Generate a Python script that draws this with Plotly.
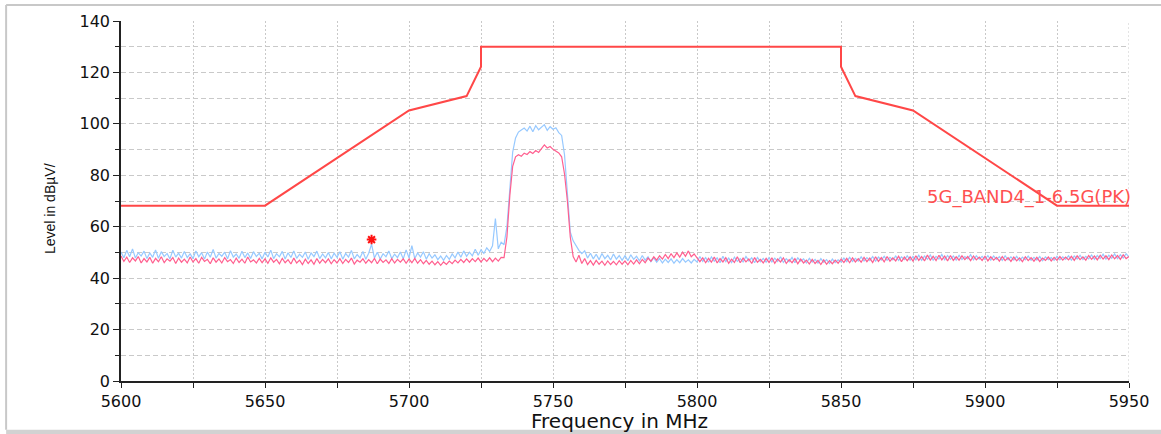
import plotly.graph_objects as go

# ---- data ----
F_START = 5600  # MHz, sweep start
F_STEP = 1      # MHz, sweep step

BLUE_DB = [
    50.2, 47.9, 50.8, 48.3, 51.4, 47.8, 49.9, 48.6, 50.5, 47.6, 49.8, 48.1, 51.0, 47.7, 50.3, 48.4, 49.6, 47.5, 50.9, 48.2, 49.7, 47.8, 50.4, 48.0, 49.5,
    47.6, 50.6, 48.3, 49.9, 47.4, 50.2, 48.1, 51.2, 47.8, 49.6, 48.5, 50.1, 47.5, 50.7, 48.2, 49.4, 47.7, 50.5, 48.0, 49.8, 47.6, 50.3, 48.4, 49.7, 47.5,
    50.1, 48.2, 50.9, 47.6, 49.5, 48.3, 50.4, 47.4, 49.9, 48.0, 50.6, 47.7, 49.3, 48.1, 50.2, 47.3, 49.8, 48.4, 50.5, 47.6, 49.4, 47.9, 50.0, 47.5, 49.7,
    48.1, 50.3, 47.4, 49.6, 48.2, 50.8, 47.5, 49.2, 47.9, 50.4, 47.3, 49.7, 53.2, 47.8, 50.1, 47.4, 49.5, 48.3, 50.6, 47.6, 49.3, 48.0, 50.2, 47.5, 51.0,
    47.9, 52.6, 47.6, 49.8, 48.2, 50.3, 47.4, 49.5, 47.8, 49.1, 47.2, 48.6, 46.9, 48.8, 47.3, 49.4, 47.9, 50.2, 48.1, 50.6, 48.5, 50.1, 48.7, 51.2, 48.9,
    51.0, 49.6, 51.8, 50.4, 52.6, 63.2, 51.4, 54.0, 53.0, 60.0, 76.0, 89.0, 94.5, 96.8, 97.6, 98.4, 97.2, 99.1, 96.9, 99.3, 97.7, 98.6, 99.7, 97.5, 98.9,
    97.9, 98.5, 96.6, 95.5, 88.0, 72.0, 58.0, 54.5, 52.4, 50.8, 49.5, 50.6, 47.8, 49.7, 47.5, 49.3, 47.2, 49.6, 47.6, 48.9, 47.1, 49.4, 47.4, 48.8, 46.9,
    48.7, 46.8, 49.1, 47.3, 48.5, 46.7, 48.8, 47.0, 48.3, 46.4, 47.9, 46.2, 47.6, 45.9, 47.4, 46.1, 47.5, 45.8, 47.2, 46.0, 47.6, 46.2, 47.1, 45.9, 47.3,
    46.3, 48.4, 46.5, 48.0, 46.2, 48.3, 46.6, 47.9, 46.0, 48.5, 46.4, 47.8, 46.1, 48.2, 46.5, 47.6, 46.3, 48.4, 46.7, 47.9, 46.0, 48.1, 46.4, 47.7, 46.2,
    48.0, 46.3, 47.8, 46.5, 48.3, 46.1, 47.6, 46.4, 48.1, 46.0, 47.9, 46.6, 47.5, 45.9, 47.7, 46.2, 47.3, 45.8, 47.6, 46.1, 47.2, 45.7, 47.4, 46.0, 47.1,
    46.3, 47.8, 46.4, 48.1, 46.5, 47.7, 46.6, 48.3, 46.7, 48.0, 46.8, 48.4, 46.6, 48.2, 47.0, 48.5, 46.9, 48.1, 47.1, 48.6, 46.9, 48.3, 47.2, 48.7, 47.0,
    48.4, 47.1, 48.9, 46.9, 48.6, 47.3, 49.0, 47.0, 48.5, 47.4, 49.2, 47.1, 48.8, 47.3, 48.6, 47.0, 48.9, 47.2, 48.4, 47.5, 49.1, 47.1, 48.7, 47.4, 48.5,
    47.2, 48.8, 47.0, 48.6, 47.3, 48.4, 46.9, 48.7, 47.1, 48.3, 47.0, 48.5, 46.8, 48.2, 47.1, 48.6, 46.9, 48.1, 47.0, 48.4, 46.8, 48.3, 47.2, 48.0, 46.9,
    48.5, 47.1, 48.3, 47.3, 48.7, 47.0, 48.6, 47.4, 48.9, 47.2, 48.5, 47.5, 49.0, 47.3, 48.8, 47.6, 49.3, 47.4, 48.9, 47.7, 49.4, 47.6, 49.1, 47.8, 49.5, 48.2,
]

PINK_DB = [
    48.6, 46.5, 48.2, 46.1, 47.9, 46.7, 48.4, 45.9, 47.6, 46.3, 48.1, 45.8, 47.7, 46.4, 48.3, 46.0, 47.5, 46.6, 48.0, 45.7, 47.8, 46.2, 47.4, 45.9, 48.2,
    46.3, 47.6, 45.8, 48.1, 46.5, 47.3, 45.6, 47.9, 46.2, 47.5, 45.9, 48.0, 46.4, 47.2, 45.7, 47.8, 46.1, 47.4, 45.8, 48.2, 46.3, 47.1, 45.9, 47.7, 46.0,
    47.5, 45.8, 47.9, 46.2, 47.3, 45.6, 47.7, 46.0, 47.2, 45.5, 47.8, 45.9, 47.0, 45.3, 47.4, 45.7, 47.1, 45.4, 47.6, 45.8, 47.3, 46.0, 47.5, 45.6, 47.2,
    45.9, 47.6, 45.7, 47.3, 46.1, 47.8, 45.5, 47.0, 46.2, 47.5, 45.8, 47.2, 46.0, 47.7, 45.6, 47.4, 46.1, 47.1, 45.7, 47.6, 45.9, 47.3, 46.2, 47.5, 45.8,
    47.4, 46.0, 47.7, 45.8, 47.2, 45.6, 46.9, 45.4, 46.6, 45.2, 46.4, 45.0, 46.3, 45.3, 46.6, 45.6, 47.0, 45.9, 47.3, 46.1, 47.5, 46.2, 47.6, 46.4, 47.8,
    46.3, 47.7, 46.5, 47.9, 46.4, 47.8, 46.6, 48.1, 48.0, 56.0, 72.0, 83.5, 87.2, 88.0, 87.4, 88.6, 88.1, 89.2, 88.5, 89.6, 88.9, 90.4, 91.8, 90.6, 91.2,
    90.1, 89.4, 88.7, 87.2, 80.5, 70.0, 56.0, 48.4, 46.3, 48.9, 45.7, 47.6, 45.3, 46.8, 45.1, 46.9, 45.4, 46.6, 45.0, 46.7, 45.3, 46.5, 45.2, 46.8, 45.4,
    46.7, 45.2, 46.9, 45.5, 47.1, 45.6, 47.3, 46.0, 47.8, 46.6, 48.3, 47.0, 48.7, 47.4, 49.2, 47.6, 49.5, 48.0, 49.8, 48.2, 50.1, 48.5, 50.6, 48.3, 49.4,
    48.1, 46.4, 47.9, 46.0, 47.7, 46.2, 48.2, 45.9, 47.6, 46.3, 48.0, 45.8, 47.4, 46.1, 48.3, 46.0, 47.8, 46.3, 47.5, 45.7, 48.0, 46.2, 47.3, 45.9, 47.7,
    46.1, 47.9, 45.8, 47.5, 46.3, 47.9, 45.7, 47.2, 46.0, 47.6, 45.6, 47.4, 45.9, 47.0, 45.5, 47.3, 45.7, 46.9, 45.3, 47.1, 45.4, 46.8, 45.6, 47.0, 45.8,
    47.4, 46.1, 47.7, 46.0, 47.9, 46.3, 47.6, 46.2, 48.1, 46.4, 47.8, 46.1, 48.3, 46.5, 48.0, 46.3, 48.4, 46.6, 47.9, 46.7, 48.5, 46.4, 48.2, 46.8, 48.3,
    46.6, 48.7, 46.9, 48.4, 46.7, 49.0, 47.0, 48.5, 46.8, 48.9, 47.1, 48.6, 46.7, 48.8, 46.9, 48.3, 47.0, 48.7, 47.2, 48.4, 46.8, 48.6, 47.1, 48.2, 46.9,
    48.5, 46.7, 48.3, 47.0, 48.1, 46.6, 48.4, 46.8, 48.0, 46.5, 48.2, 46.7, 47.9, 46.4, 48.3, 46.8, 48.0, 46.6, 48.1, 46.5, 47.8, 46.9, 48.2, 46.7, 48.1,
    46.9, 48.4, 47.0, 48.2, 47.1, 48.5, 46.9, 48.7, 47.2, 48.3, 47.0, 48.8, 47.3, 48.6, 47.1, 48.9, 47.4, 48.7, 47.2, 49.0, 47.5, 48.8, 47.3, 49.1, 47.6, 48.4,
]

LIMIT_F = [5600, 5650, 5700, 5720, 5725, 5725, 5850, 5850, 5855, 5875, 5925, 5950]
LIMIT_DB = [68.2, 68.2, 105.2, 110.8, 122.2, 130.0, 130.0, 122.2, 110.8, 105.2, 68.2, 68.2]
LIMIT_NAME = "5G_BAND4_1-6.5G(PK)"

MARK_F = [5687]
MARK_DB = [55.0]

X_TICKS = [5600, 5650, 5700, 5750, 5800, 5850, 5900, 5950]
Y_TICKS = [0, 20, 40, 60, 80, 100, 120, 140]
X_TITLE = "Frequency in MHz"
Y_TITLE = "Level in dBµV/"

freq_b = [F_START + i * F_STEP for i in range(len(BLUE_DB))]
freq_p = [F_START + i * F_STEP for i in range(len(PINK_DB))]

# ---- figure ----
W, H = 1161, 434
L, R, T, B = 121, 31, 19, 53
pw, ph = W - L - R, H - T - B

def px(x):
    return (x - L) / pw

def py(y):
    return (H - B - y) / ph

fig = go.Figure()
fig.add_trace(go.Scatter(x=freq_b, y=BLUE_DB, mode="lines",
                         line=dict(color="#97c9ff", width=1.2), hoverinfo="skip"))
fig.add_trace(go.Scatter(x=freq_p, y=PINK_DB, mode="lines",
                         line=dict(color="#ff5f8f", width=1.2), hoverinfo="skip"))
fig.add_trace(go.Scatter(x=LIMIT_F, y=LIMIT_DB, mode="lines",
                         line=dict(color="#ff4747", width=2), hoverinfo="skip"))
fig.add_trace(go.Scatter(x=MARK_F, y=MARK_DB, mode="markers",
                         marker=dict(symbol="asterisk", size=8,
                                     line=dict(color="#ff1010", width=2)),
                         hoverinfo="skip"))

tickfont = dict(family="DejaVu Sans", size=16, color="#111111")
grid_col = "#c9c9c9"

fig.update_xaxes(
    range=[5600, 5950], tickvals=X_TICKS, ticktext=[str(v) for v in X_TICKS],
    showgrid=True, gridcolor=grid_col, griddash="2px,2px", gridwidth=1,
    minor=dict(dtick=25, tick0=5600, showgrid=True, gridcolor=grid_col,
               griddash="2px,2px", ticks="outside", ticklen=5, tickcolor="#222"),
    showline=True, linecolor="#222222", linewidth=1.5,
    ticks="outside", ticklen=5, tickcolor="#222", tickfont=tickfont,
    zeroline=False, fixedrange=True,
)
fig.update_yaxes(
    range=[0, 140], tickvals=Y_TICKS, ticktext=[str(v) for v in Y_TICKS],
    showgrid=True, gridcolor=grid_col, griddash="5px,3px", gridwidth=1,
    minor=dict(dtick=10, tick0=0, showgrid=True, gridcolor=grid_col,
               griddash="5px,3px", ticks="outside", ticklen=4, tickcolor="#222"),
    showline=True, linecolor="#222222", linewidth=1.5,
    ticks="outside", ticklen=6, tickcolor="#222", tickfont=tickfont,
    zeroline=False, fixedrange=True,
)

frame_col = "#c8c8c8"
shapes = [
    dict(type="line", xref="paper", yref="paper", x0=px(6), x1=px(6), y0=py(430), y1=py(3),
         line=dict(color=frame_col, width=2), layer="below"),
    dict(type="line", xref="paper", yref="paper", x0=px(6), x1=px(1165), y0=py(3), y1=py(3),
         line=dict(color=frame_col, width=2), layer="below"),
    dict(type="rect", xref="paper", yref="paper", x0=px(6), x1=px(1165), y0=py(436), y1=py(430),
         line=dict(width=0), fillcolor="#d2d2d2", layer="below"),
    # gridline at the right edge of the x range
    dict(type="line", xref="x", yref="paper", x0=5950, x1=5950, y0=0, y1=1,
         line=dict(color=grid_col, width=1, dash="2px,2px"), layer="below"),
]

annotations = [
    dict(text=LIMIT_NAME, x=5950, y=71.5, xref="x", yref="y", xanchor="right",
         yanchor="middle", showarrow=False, xshift=4,
         font=dict(family="DejaVu Sans", size=18, color="#ff5050")),
    dict(text=Y_TITLE, x=px(50), y=py(208), xref="paper", yref="paper", textangle=-90,
         xanchor="center", yanchor="middle", showarrow=False,
         font=dict(family="Liberation Sans", size=14, color="#111111")),
    dict(text=X_TITLE, x=px(620), y=py(421), xref="paper", yref="paper",
         xanchor="center", yanchor="middle", showarrow=False,
         font=dict(family="DejaVu Sans", size=20, color="#111111")),
]

fig.update_layout(
    width=W, height=H, margin=dict(l=L, r=R, t=T, b=B, pad=0),
    paper_bgcolor="white", plot_bgcolor="white", showlegend=False,
    shapes=shapes, annotations=annotations,
)

fig.write_html(
    "out.html",
    config={"displayModeBar": False},
    post_script="document.body.style.margin='0';document.body.style.overflow='hidden';",
)
